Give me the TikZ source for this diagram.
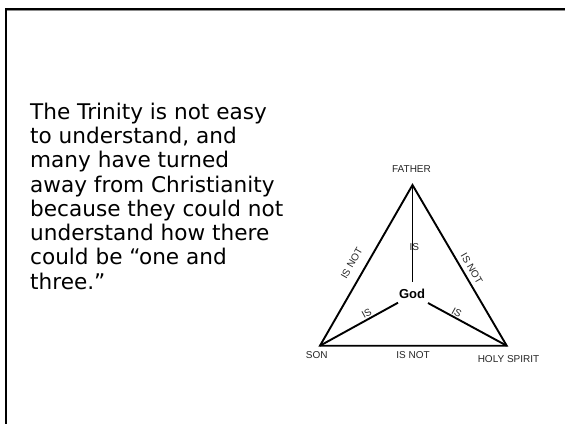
\documentclass[tikz,border=0pt]{standalone}
\usepackage{fontspec}
\setmainfont{DejaVu Sans}
\newfontfamily\arialfont{Liberation Sans}
\begin{document}
\begin{tikzpicture}[x=1pt,y=-1pt,
  edge/.style={line width=1.9pt,line join=miter},
  lbl/.style={font=\arialfont\fontsize{10}{12}\selectfont,inner sep=0pt,text=black!85},
  body/.style={font=\fontsize{21.6}{24.3}\selectfont,inner sep=0pt,align=left,anchor=north west}]
\useasboundingbox (0,0) rectangle (565,424);
\fill[white] (0,0) rectangle (565,424);
% frame
\draw[black!45,line width=1pt] (6,10.8) -- (565,10.8);
\draw[black,line width=2.2pt] (5.7,9) -- (565,9);
\draw[black,line width=2pt] (5.7,8) -- (5.7,424);
% text
\node[body] (txt) at (30,102.5) {The Trinity is not easy\\to understand, and\\many have turned\\away from Christianity\\because they could not\\understand how there\\could be “one and\\three.”};
% triangle
\coordinate (F) at (412.5,185);
\coordinate (S) at (320,345.7);
\coordinate (H) at (506.7,345.7);
\coordinate (Gt) at (412.5,282);
\coordinate (Gl) at (398,302.7);
\coordinate (Gr) at (428,303);
\draw[edge] (F) -- (S) -- (H) -- cycle;
\draw[edge] (F) -- (Gt);
\draw[edge] (Gl) -- (S);
\draw[edge] (Gr) -- (H);
\node[font=\arialfont\bfseries\fontsize{13}{15}\selectfont,inner sep=0pt] (god) at (412,294) {God};
\node[lbl] (father) at (411.5,169) {FATHER};
\node[lbl] (son) at (316.7,355) {SON};
\node[lbl] (hs) at (508.5,359) {HOLY SPIRIT};
\node[lbl] (isnotb) at (413,355) {IS NOT};
\node[lbl,rotate=60] (isnotl) at (351.7,263.3) {IS NOT};
\node[lbl,rotate=-60] (isnotr) at (471.7,268.3) {IS NOT};
\node[lbl] (isv) at (414.3,246.7) {IS};
\node[lbl,rotate=29] (isl) at (366.7,313.3) {IS};
\node[lbl,rotate=-29] (isr) at (456.7,312.7) {IS};
\end{tikzpicture}
\end{document}
